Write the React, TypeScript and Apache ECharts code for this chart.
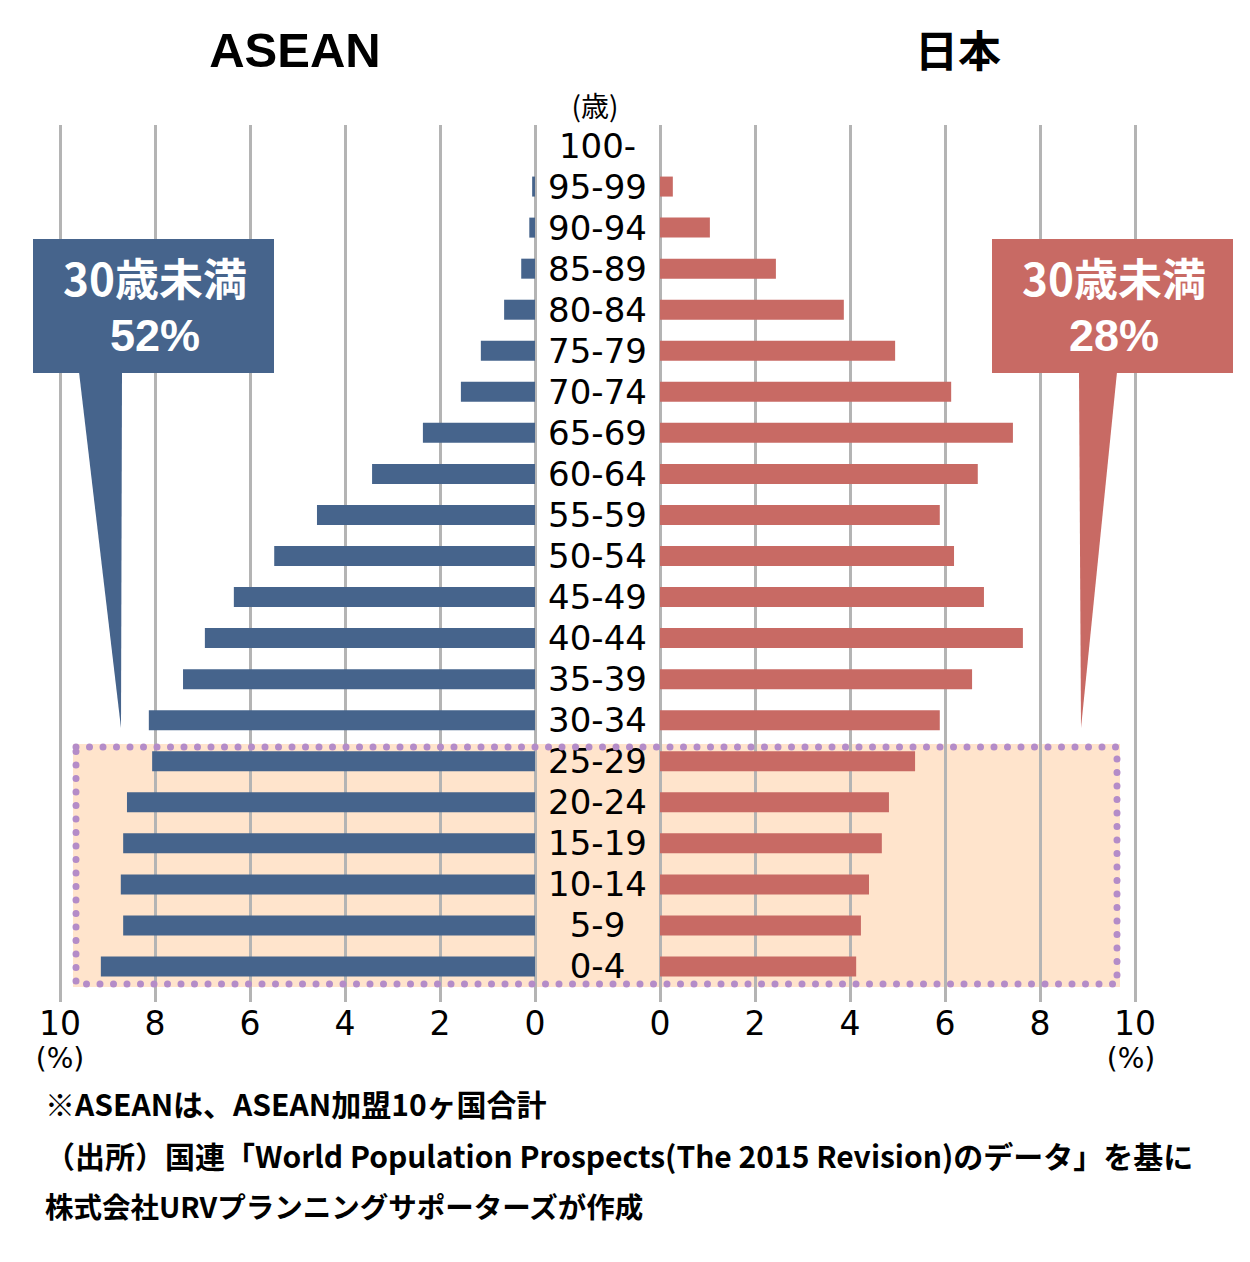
import React, { useEffect, useRef } from "react";
import * as echarts from "echarts";

const ages = ["0-4","5-9","10-14","15-19","20-24","25-29","30-34","35-39","40-44","45-49","50-54","55-59","60-64","65-69","70-74","75-79","80-84","85-89","90-94","95-99","100-"];
const aseanValues = [9.14, 8.67, 8.72, 8.67, 8.59, 8.06, 8.13, 7.41, 6.95, 6.34, 5.49, 4.59, 3.43, 2.36, 1.56, 1.14, 0.65, 0.29, 0.12, 0.06, 0];
const japanValues = [4.13, 4.23, 4.40, 4.67, 4.82, 5.37, 5.89, 6.57, 7.64, 6.82, 6.19, 5.89, 6.69, 7.43, 6.13, 4.95, 3.87, 2.44, 1.05, 0.27, 0];
const leftTitle = "ASEAN";
const rightTitle = "日本";
const boxLabel = "30歳未満";
const aseanShare = "52%";
const japanShare = "28%";
const notes = [
  "※ASEANは、ASEAN加盟10ヶ国合計",
  "（出所）国連「World Population Prospects(The 2015 Revision)のデータ」を基に",
  "株式会社URVプランニングサポーターズが作成",
];

const BLUE = "#46648c";
const RED = "#c86a64";
const GRID = "#b4b4b4";
const NUM_FONT = "DejaVu Sans";
const JP_FONT = "'Noto Sans CJK JP', sans-serif";

export default function App() {
  const ref = useRef<HTMLDivElement>(null);
  useEffect(() => {
    if (!ref.current) return;
    const chart = echarts.init(ref.current, null, { renderer: "svg" });
    const valueAxisCommon = {
      type: "value",
      min: 0,
      max: 10,
      interval: 2,
      axisLine: { show: false },
      axisTick: { show: true, inside: false, length: 15, lineStyle: { color: GRID, width: 3 } },
      splitLine: { show: true, lineStyle: { color: GRID, width: 3 } },
      axisLabel: { fontFamily: NUM_FONT, fontSize: 33, color: "#000", margin: 20 },
    };
    const txt = (x: number, y: number, text: string, fontSize: number, opts: any = {}) => ({
      type: "text",
      x,
      y,
      z: opts.z ?? 20,
      style: {
        text,
        fontSize,
        lineHeight: opts.lineHeight ?? fontSize,
        fontFamily: opts.fontFamily ?? JP_FONT,
        fontWeight: opts.fontWeight ?? "bold",
        fill: opts.fill ?? "#000",
        align: opts.align ?? "center",
        verticalAlign: "middle",
      },
    });
    const option: any = {
      animation: false,
      backgroundColor: "#fff",
      grid: [
        { left: 60, width: 475, top: 125, height: 862 },
        { left: 660, width: 475, top: 125, height: 862 },
      ],
      xAxis: [
        { ...valueAxisCommon, gridIndex: 0, inverse: true },
        { ...valueAxisCommon, gridIndex: 1 },
      ],
      yAxis: [
        {
          type: "category",
          gridIndex: 0,
          data: ages,
          position: "right",
          axisLine: { show: false },
          axisTick: { show: false },
          axisLabel: {
            show: true,
            interval: 0,
            align: "center",
            margin: 62.5,
            fontFamily: NUM_FONT,
            fontSize: 34,
            color: "#000",
          },
        },
        {
          type: "category",
          gridIndex: 1,
          data: ages,
          axisLine: { show: false },
          axisTick: { show: false },
          axisLabel: { show: false },
        },
      ],
      series: [
        {
          type: "bar",
          xAxisIndex: 0,
          yAxisIndex: 0,
          data: aseanValues,
          barWidth: 20,
          itemStyle: { color: BLUE },
          z: 5,
        },
        {
          type: "bar",
          xAxisIndex: 1,
          yAxisIndex: 1,
          data: japanValues,
          barWidth: 20,
          itemStyle: { color: RED },
          z: 5,
        },
      ],
      graphic: [
        {
          type: "rect",
          z: -10,
          shape: { x: 73, y: 744, width: 1047, height: 243 },
          style: { fill: "#ffe4cc" },
        },
        {
          type: "rect",
          z: 10,
          shape: { x: 76, y: 747, width: 1041, height: 237 },
          style: { fill: "none", stroke: "#b48cc8", lineWidth: 7, lineDash: [0, 13.5], lineCap: "round" },
        },
        txt(295, 50, leftTitle, 49, { fontFamily: "Liberation Sans" }),
        txt(958, 48, rightTitle, 43),
        txt(595, 105, "(歳)", 28, { fontWeight: "normal" }),
        txt(60, 1058, "(%)", 28, { fontWeight: "normal", fontFamily: NUM_FONT }),
        txt(1131, 1058, "(%)", 28, { fontWeight: "normal", fontFamily: NUM_FONT }),
        // left callout
        { type: "polygon", z: 15, shape: { points: [[79, 372], [122, 372], [121, 728]] }, style: { fill: BLUE } },
        { type: "rect", z: 15, shape: { x: 33, y: 239, width: 241, height: 134 }, style: { fill: BLUE } },
        txt(155, 277, boxLabel, 44, { fill: "#fff" }),
        txt(155, 335, aseanShare, 45, { fill: "#fff", fontFamily: "Liberation Sans" }),
        // right callout
        { type: "polygon", z: 15, shape: { points: [[1079, 372], [1117, 372], [1081, 728]] }, style: { fill: RED } },
        { type: "rect", z: 15, shape: { x: 992, y: 239, width: 241, height: 134 }, style: { fill: RED } },
        txt(1114, 277, boxLabel, 44, { fill: "#fff" }),
        txt(1114, 335, japanShare, 45, { fill: "#fff", fontFamily: "Liberation Sans" }),
        // notes
        txt(45, 1103, notes[0], 30, { align: "left" }),
        txt(45, 1155, notes[1], 30, { align: "left" }),
        txt(45, 1205, notes[2], 28.5, { align: "left" }),
      ],
    };
    chart.setOption(option);
    return () => chart.dispose();
  }, []);
  return (
    <div
      ref={ref}
      style={{ position: "absolute", left: 0, top: 0, width: 1250, height: 1262 }}
    />
  );
}
